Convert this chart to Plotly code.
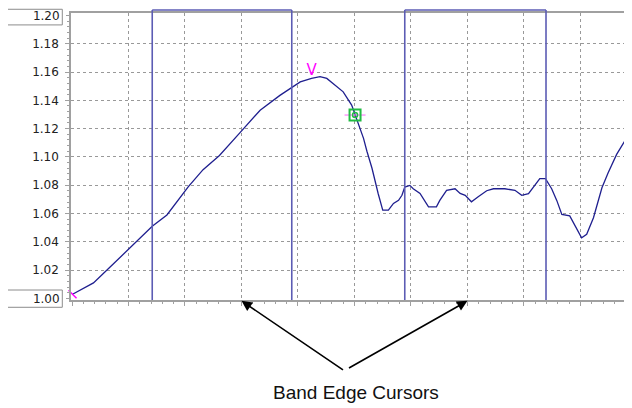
import plotly.graph_objects as go

# trace readings (x in grid divisions, y = ratio)
freq = [0.01, 0.38, 0.67, 1.03, 1.42, 1.68, 2.06, 2.32, 2.61, 2.97, 3.33, 3.68,
        3.90, 4.04, 4.24, 4.39, 4.51, 4.62, 4.80, 4.95, 5.01, 5.16, 5.22, 5.31,
        5.42, 5.50, 5.60, 5.69, 5.78, 5.84, 5.89, 5.98, 6.04, 6.16, 6.31, 6.45,
        6.51, 6.63, 6.78, 6.87, 6.96, 7.07, 7.19, 7.34, 7.46, 7.66, 7.84, 7.96,
        8.08, 8.19, 8.28, 8.38, 8.49, 8.58, 8.67, 8.81, 8.93, 9.02, 9.11, 9.23,
        9.38, 9.49, 9.64, 9.76, 9.88, 9.93]
ratio = [1.003, 1.011, 1.022, 1.036, 1.051, 1.059, 1.079, 1.091, 1.101, 1.117, 1.133, 1.1435,
         1.1496, 1.153, 1.1555, 1.1567, 1.1555, 1.152, 1.146, 1.1366, 1.1296, 1.1131, 1.104, 1.092,
         1.074, 1.0624, 1.0624, 1.0671, 1.0693, 1.0729, 1.0787, 1.0799, 1.0775, 1.0742, 1.0647, 1.0647,
         1.0693, 1.0763, 1.0775, 1.0742, 1.0729, 1.0683, 1.0718, 1.0761, 1.0775, 1.0775, 1.0764, 1.0729,
         1.0741, 1.0799, 1.0846, 1.0846, 1.0775, 1.0693, 1.0594, 1.0583, 1.05, 1.0429, 1.0453, 1.057,
         1.0782, 1.0888, 1.1018, 1.11, 1.1182, 1.121]

# band edge cursor pairs
cursor_pairs = [(1.42, 3.89), (5.89, 8.39)]

# marker readings
peak_x, peak_y = 4.24, 1.1555
mark_x, mark_y = 5.01, 1.1296

grid_ticks = [1.02, 1.04, 1.06, 1.08, 1.10, 1.12, 1.14, 1.16, 1.18]
range_ticks = [1.00, 1.20]   # boxed range entries
y_range = [0.9989, 1.2017]
arrow_targets = [3.0, 7.0]

fig = go.Figure()

fig.add_trace(go.Scatter(
    x=freq, y=ratio, mode="lines",
    line=dict(color="#1f1f8f", width=1.3),
    showlegend=False, hoverinfo="skip",
))

# start marker
fig.add_trace(go.Scatter(
    x=[freq[0]], y=[ratio[0]], mode="markers",
    marker=dict(symbol="line-nw", size=8, line=dict(color="#ff00ff", width=1.5)),
    showlegend=False, cliponaxis=False,
))

# peak marker "V"
fig.add_trace(go.Scatter(
    x=[peak_x], y=[peak_y], mode="text", text=["V"],
    textposition="top center",
    textfont=dict(family="DejaVu Sans", size=15, color="#ff00ff"),
    showlegend=False,
))

# o marker
fig.add_trace(go.Scatter(
    x=[mark_x], y=[mark_y], mode="markers",
    marker=dict(symbol="line-ew", size=15, line=dict(color="#ff66ff", width=1)),
    showlegend=False,
))
fig.add_trace(go.Scatter(
    x=[mark_x], y=[mark_y], mode="markers",
    marker=dict(symbol="square-open", size=11, color="#22bb44", line=dict(width=2)),
    showlegend=False,
))
fig.add_trace(go.Scatter(
    x=[mark_x], y=[mark_y], mode="markers",
    marker=dict(symbol="circle-open", size=5, color="#22bb44", line=dict(width=1.5)),
    showlegend=False,
))

# empty trace so the overlay axis (range labels) is drawn
fig.add_trace(go.Scatter(x=[], y=[], yaxis="y2", showlegend=False))

# cursor boxes
cursor_col = "#5c5cb4"
for a, b in cursor_pairs:
    for x0 in (a, b):
        fig.add_shape(type="line", xref="x", yref="paper", x0=x0, x1=x0, y0=0, y1=1.0104,
                      line=dict(color=cursor_col, width=1.6))
    fig.add_shape(type="line", xref="x", yref="paper", x0=a, x1=b, y0=1.0104, y1=1.0104,
                  line=dict(color=cursor_col, width=1.6))

# boxes around the range entry labels
for y0, y1 in [(0.9585, 1.0130), (-0.0254, 0.0348)]:
    fig.add_shape(type="rect", xref="paper", yref="paper", x0=-0.1135, x1=-0.0155,
                  y0=y0, y1=y1, line=dict(color="#8c8c8c", width=1), fillcolor="rgba(0,0,0,0)")

# arrows
fig.add_annotation(x=arrow_targets[0], y=-0.003, xref="x", yref="paper", text="",
                   showarrow=True, ax=103, ay=70, arrowhead=2, arrowsize=1.3,
                   arrowwidth=1.6, arrowcolor="black", standoff=0)
fig.add_annotation(x=arrow_targets[1], y=-0.003, xref="x", yref="paper", text="",
                   showarrow=True, ax=-120, ay=68, arrowhead=2, arrowsize=1.3,
                   arrowwidth=1.6, arrowcolor="black", standoff=0)
fig.add_annotation(x=0.508, y=-0.323, xref="paper", yref="paper", text="Band Edge Cursors",
                   showarrow=False, xanchor="center", yanchor="middle",
                   font=dict(family="Liberation Sans Narrow, Arial Narrow, sans-serif", size=19, color="#111"))

tick_font = dict(family="DejaVu Sans", size=12, color="#222")

# page body adds an 8px offset, so the figure is sized/offset to compensate
fig.update_layout(
    width=624, height=400,
    margin=dict(l=63, r=0, t=5, b=108, autoexpand=False),
    plot_bgcolor="white", paper_bgcolor="white",
    showlegend=False,
    yaxis2=dict(
        overlaying="y", side="left", anchor="x", range=y_range,
        tickvals=range_ticks, ticktext=[f"{v:.2f}" for v in range_ticks],
        showgrid=False, showline=False, zeroline=False,
        ticks="outside", ticklen=4, tickcolor="#a0a0a0",
        tickfont=tick_font, ticklabelstandoff=4, ticklabeloverflow="allow",
        automargin=False,
    ),
)

fig.update_xaxes(
    range=[-0.0177, 9.912], dtick=1, tick0=0,
    showgrid=True, gridcolor="#999999", griddash="dot", gridwidth=1,
    showline=True, linecolor="#a0a0a0", linewidth=1.5, mirror=True,
    ticks="outside", ticklen=4, tickcolor="#a0a0a0", showticklabels=False,
    minor=dict(ticks="outside", ticklen=2, dtick=0.2, tickcolor="#a0a0a0", showgrid=False),
    zeroline=False, automargin=False,
)
fig.update_yaxes(
    selector=dict(overlaying=None),
    range=y_range, tickvals=grid_ticks, ticktext=[f"{v:.2f}" for v in grid_ticks],
    showgrid=True, gridcolor="#999999", griddash="dot", gridwidth=1,
    showline=True, linecolor="#a0a0a0", linewidth=1.5,
    ticks="outside", ticklen=4, tickcolor="#a0a0a0",
    minor=dict(ticks="outside", ticklen=2, dtick=0.004, tick0=1.0, tickcolor="#a0a0a0", showgrid=False),
    tickfont=tick_font,
    ticklabelstandoff=4, ticklabeloverflow="allow",
    zeroline=False, automargin=False,
)

fig.write_html("out.html")
